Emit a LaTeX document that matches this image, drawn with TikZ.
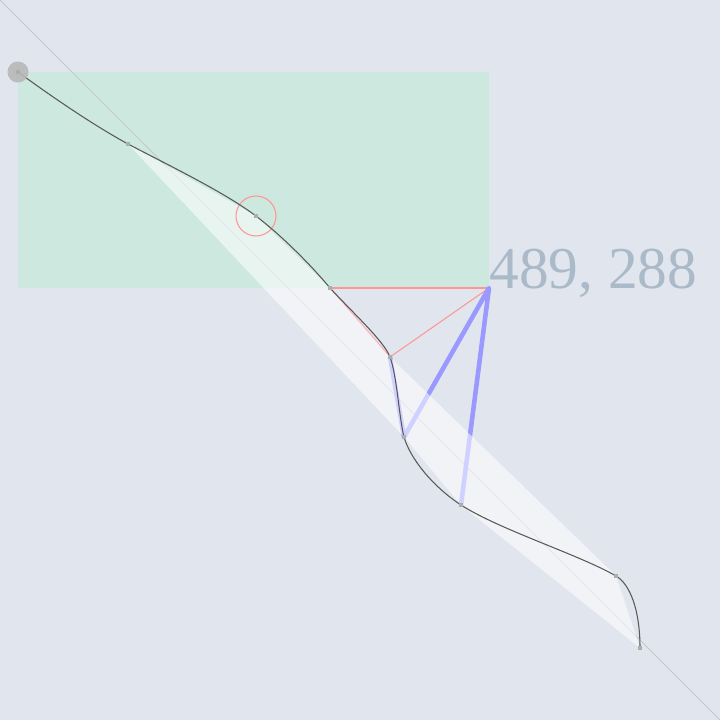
\documentclass[tikz,border=0pt]{standalone}
\usepackage{fontspec}
\setmainfont{Liberation Serif}
\usetikzlibrary{positioning,calc}

\definecolor{bgcol}{RGB}{225,229,238}
\definecolor{boxgreen}{RGB}{205,232,222}
\definecolor{diagcol}{RGB}{196,199,207}
\definecolor{redl}{RGB}{255,150,150}
\definecolor{bluel}{RGB}{153,153,255}
\definecolor{ptcol}{RGB}{168,176,174}
\definecolor{readcol}{RGB}{170,186,200}

\begin{document}
\begin{tikzpicture}[x=0.02cm, y=-0.02cm,
    curve/.style={draw=black!65, line width=0.6pt},
    hull/.style={fill=white, fill opacity=0.55},
    redline/.style={draw=redl, line width=0.6pt},
    blueline/.style={draw=bluel, line width=2.6pt, line join=round},
    knot/.style={fill=ptcol, inner sep=0pt, minimum size=2.8pt},
    handle/.style={circle, fill=black!28, fill opacity=0.9, inner sep=0pt, minimum size=12pt},
    readout/.style={font=\fontsize{33.8}{40}\selectfont, text=readcol, inner sep=0pt, anchor=base west}
]

% Background and box
\fill[bgcol] (0,0) rectangle (720,720);
\useasboundingbox (0,0) rectangle (720,720);
\fill[boxgreen] (18,72) rectangle (489,288);
\draw[diagcol, line width=0.5pt] (0,0) -- (720,720);

% Points on the curve
\coordinate (start) at (18,72);
\coordinate (k1) at (128,144);
\coordinate (k2) at (256,216);
\coordinate (k3) at (330,288);
\coordinate (k4) at (390,357);
\coordinate (k5) at (404,437);
\coordinate (k6) at (461,505);
\coordinate (k7) at (616,576);
\coordinate (k8) at (640,648);
\coordinate (mouse) at (489,288);

% Distance lines
\draw[redline] (mouse) -- (k3);
\draw[redline] (mouse) -- (k4);
\draw[redline] (k3) -- (k4);
\draw[blueline] (k4) -- (k5) -- (mouse) -- (k6);

% Hull
\fill[hull] (k1) -- (k2) -- (k3) -- (k4) -- (k7) -- (k8) -- (k6) -- (k5) -- cycle;
\draw[redl, line width=0.6pt] (k2) circle (20);

% Curve
\draw[curve] (start) .. controls (55,99) and (95,126) .. (k1)
    .. controls (170,166) and (224,192) .. (k2)
    .. controls (282,236) and (310,264) .. (k3)
    .. controls (352,312) and (384,341) .. (k4)
    .. controls (397,376) and (399,417) .. (k5)
    .. controls (410,458) and (432,486) .. (k6)
    .. controls (500,530) and (580,555) .. (k7)
    .. controls (630,584) and (640,610) .. (k8);

% Knots
\node[handle] (grip) at (start) {};
\foreach \k in {start,k1,k2,k3,k4,k5,k6,k7,k8}
    \node[knot] (m-\k) at (\k) {};

% Readout
\node[readout] (coords) at (mouse) {489, 288};

\end{tikzpicture}
\end{document}
